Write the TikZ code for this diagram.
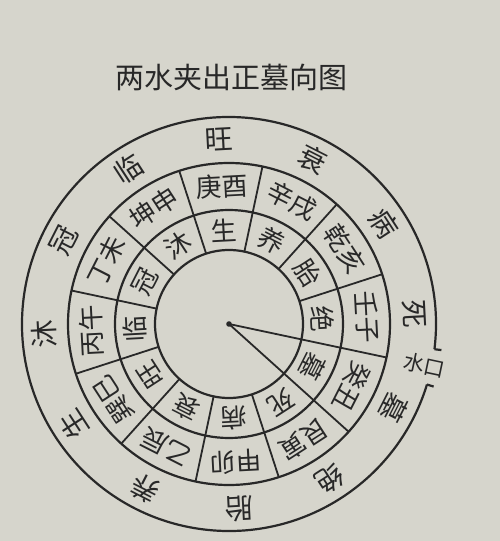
\documentclass[tikz,border=0pt]{standalone}
\usepackage{fontspec}
\newfontfamily\cjk{Noto Sans CJK SC}
\definecolor{paper}{RGB}{214,213,204}
\definecolor{ink}{RGB}{40,40,40}
\tikzset{
  ring/.style={line width=2.2pt,draw=ink},
  spoke/.style={line width=1.8pt,draw=ink},
  zi/.style={text=ink,inner sep=0pt,font=\cjk\fontsize{26}{26}\selectfont},
  shan/.style={zi,font=\cjk\fontsize{26}{26}\selectfont},
  wai/.style={zi,font=\cjk\fontsize{28}{28}\selectfont},
}
\begin{document}
\begin{tikzpicture}[x=1pt,y=1pt]
			\fill[paper] (-229,-217) rectangle (271,324);
			\useasboundingbox (-229,-217) rectangle (271,324);
			\def\rot{3}
			\node[zi,font=\cjk\fontsize{29}{29}\selectfont] (title) at (3,247) {两水夹出正墓向图};
			% rings
			\draw[ring] (0,0) circle (74);
			\draw[ring] (0,0) circle (114);
			\draw[ring] (0,0) circle (161);
			\draw[ring] (-7:207) arc (-7:343:207);
			\draw[ring] (-7:207) -- (-7:214);
			\draw[ring] (-17:207) -- (-17:214);
			% sector lines
			\foreach \k in {0,...,11}
				\draw[spoke] ({\rot+15+30*\k}:74) -- ({\rot+15+30*\k}:161);
			\coordinate (O) at (0,0);
			\coordinate (W1) at ({\rot-15}:74);
			\coordinate (W2) at ({\rot-45}:74);
			\draw[spoke] (O) -- (W1);
			\draw[spoke] (O) -- (W2);
			\fill[ink] (O) circle (2.8);
			% twelve stages, inner
			\foreach \s [count=\k from 0] in {生,养,胎,绝,墓,死,病,衰,旺,临,冠,沐}
				\node[zi,rotate={\rot-30*\k}] (s\k) at ({\rot+90-30*\k}:94) {\s};
			% mountains
			\foreach \s [count=\k from 0] in {庚酉,辛戌,乾亥,壬子,癸丑,艮寅,甲卯,乙辰,巽巳,丙午,丁未,坤申}
				\node[shan,rotate={\rot-30*\k}] (m\k) at ({\rot+90-30*\k}:138) {\s};
			% twelve stages, outer
			\foreach \s [count=\k from 0] in {旺,衰,病,死,墓,绝,胎,养,生,沐,冠,临}
				\node[wai,rotate={\rot-30*\k}] (w\k) at ({\rot+90-30*\k}:185) {\s};
			\node[zi,font=\cjk\fontsize{21}{21}\selectfont,rotate=-12] (shuikou) at (-12:200) {水口};
		\end{tikzpicture}
\end{document}
